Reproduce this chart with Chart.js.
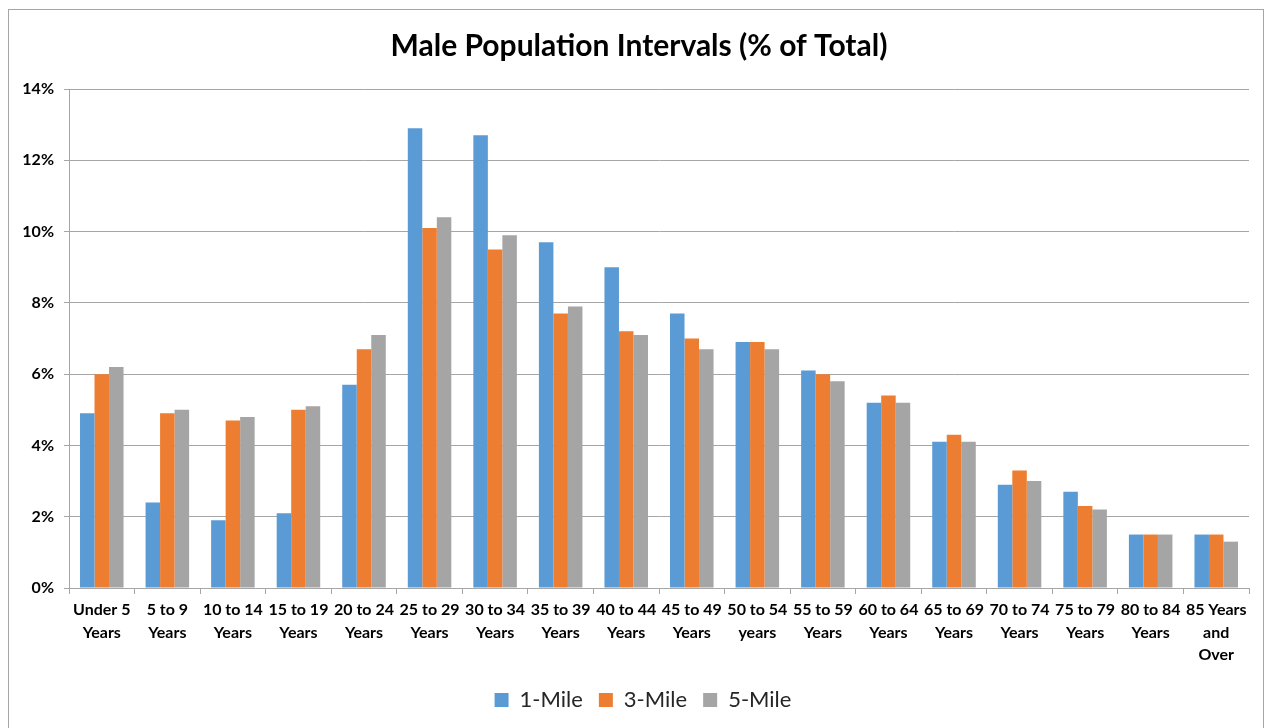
<!DOCTYPE html>
<html>
<head>
<meta charset="utf-8">
<script src="https://cdn.jsdelivr.net/npm/chart.js@4/dist/chart.umd.min.js"></script>
<style>
  html, body { margin: 0; padding: 0; background: #fff; overflow: hidden; }
  #frame {
    position: absolute; left: 8px; top: 9px;
    width: 1254px; height: 740px;
    border: 1px solid #a6a6a6;
  }
  #chart-box { position: absolute; left: 0; top: 0; width: 1254px; height: 718px; }
</style>
</head>
<body>
<div id="frame">
  <div id="chart-box"><canvas id="pop-chart"></canvas></div>
</div>
<script>
// Age groups
const categories = [
    ['Under 5', 'Years'], ['5 to 9', 'Years'], ['10 to 14', 'Years'], ['15 to 19', 'Years'],
    ['20 to 24', 'Years'], ['25 to 29', 'Years'], ['30 to 34', 'Years'], ['35 to 39', 'Years'],
    ['40 to 44', 'Years'], ['45 to 49', 'Years'], ['50 to 54', 'years'], ['55 to 59', 'Years'],
    ['60 to 64', 'Years'], ['65 to 69', 'Years'], ['70 to 74', 'Years'], ['75 to 79', 'Years'],
    ['80 to 84', 'Years'], ['85 Years', 'and', 'Over']
];

// % of total male population
const oneMile   = [4.9, 2.4, 1.9, 2.1, 5.7, 12.9, 12.7, 9.7, 9.0, 7.7, 6.9, 6.1, 5.2, 4.1, 2.9, 2.7, 1.5, 1.5];
const threeMile = [6.0, 4.9, 4.7, 5.0, 6.7, 10.1, 9.5, 7.7, 7.2, 7.0, 6.9, 6.0, 5.4, 4.3, 3.3, 2.3, 1.5, 1.5];
const fiveMile  = [6.2, 5.0, 4.8, 5.1, 7.1, 10.4, 9.9, 7.9, 7.1, 6.7, 6.7, 5.8, 5.2, 4.1, 3.0, 2.2, 1.5, 1.3];

const yTicks = [0, 2, 4, 6, 8, 10, 12, 14];

const fontFamily = 'Lato, "Open Sans", sans-serif';
const axisGrey = '#a6a6a6';

// nudge title and legend right a bit so they centre on the frame like the original
const centerNudge = {
    id: 'centerNudge',
    afterLayout(chart) {
        if (chart.titleBlock) {
            chart.titleBlock.left += 10;
            chart.titleBlock.right += 10;
        }
        if (chart.legend) {
            chart.legend.left += 14;
            chart.legend.right += 14;
        }
    }
};

const ctx = document.getElementById('pop-chart');

new Chart(ctx, {
    type: 'bar',
    data: {
        labels: categories,
        datasets: [
            { label: '1-Mile', data: oneMile, backgroundColor: '#5b9bd5' },
            { label: '3-Mile', data: threeMile, backgroundColor: '#ed7d31' },
            { label: '5-Mile', data: fiveMile, backgroundColor: '#a5a5a5' }
        ]
    },
    plugins: [centerNudge],
    options: {
        responsive: true,
        maintainAspectRatio: false,
        animation: false,
        datasets: {
            bar: { categoryPercentage: 0.664, barPercentage: 1.0, borderWidth: 0 }
        },
        layout: {
            padding: { left: 0, right: 14, top: 0, bottom: 7 }
        },
        scales: {
            x: {
                grid: {
                    display: true,
                    offset: true,
                    drawOnChartArea: false,
                    drawTicks: true,
                    tickLength: 6,
                    color: axisGrey
                },
                border: { display: true, color: axisGrey, width: 1 },
                ticks: {
                    color: '#000',
                    maxRotation: 0,
                    autoSkip: false,
                    padding: 5,
                    font: { family: fontFamily, size: 16, weight: 'bold', lineHeight: 1.4 }
                },
                afterFit: (scale) => { scale.height = 85; }
            },
            y: {
                min: 0,
                max: 14,
                afterBuildTicks: (scale) => { scale.ticks = yTicks.map(v => ({ value: v })); },
                grid: {
                    color: axisGrey,
                    lineWidth: 1,
                    drawTicks: true,
                    tickLength: 5
                },
                border: { display: true, color: axisGrey, width: 1 },
                ticks: {
                    color: '#000',
                    padding: 10,
                    callback: v => v + '%',
                    font: { family: fontFamily, size: 16, weight: 'bold' }
                },
                afterFit: (scale) => { scale.width = 60; }
            }
        },
        plugins: {
            title: {
                display: true,
                text: 'Male Population Intervals (% of Total)',
                color: '#000',
                font: { family: fontFamily, size: 30, weight: 'bold', lineHeight: 1.2 },
                padding: { top: 18, bottom: 25 }
            },
            legend: {
                position: 'bottom',
                labels: {
                    color: '#262626',
                    boxWidth: 14,
                    boxHeight: 14,
                    padding: 16,
                    font: { family: fontFamily, size: 22 }
                }
            },
            tooltip: { enabled: false }
        }
    }
});
</script>
</body>
</html>
